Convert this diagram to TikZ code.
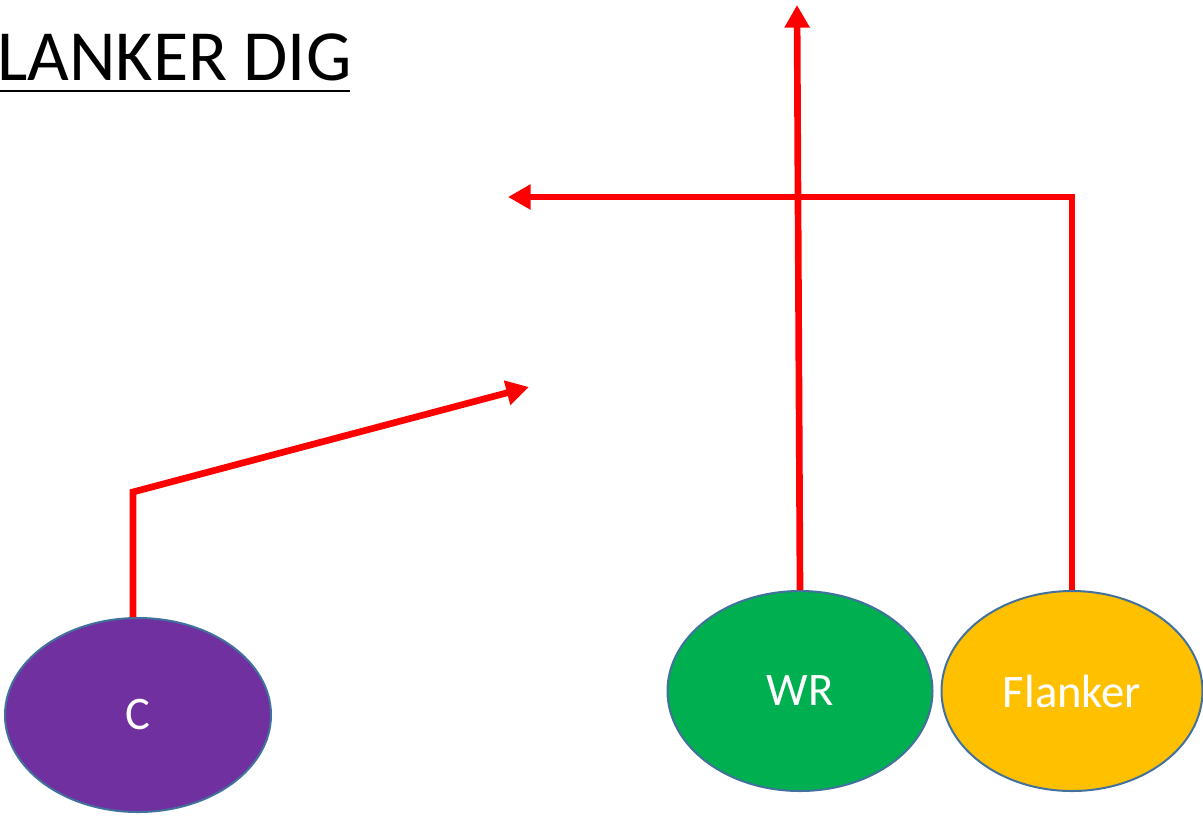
\documentclass[tikz,border=0pt]{standalone}
\usepackage{fontspec}
\setmainfont{Carlito}
\usetikzlibrary{arrows.meta,shapes.geometric}
\definecolor{cpurple}{HTML}{7030A0}
\definecolor{cgreen}{HTML}{00B050}
\definecolor{cgold}{HTML}{FFC000}
\definecolor{cedge}{HTML}{41719C}
\tikzset{
  player/.style={ellipse, draw=cedge, line width=1.5pt, inner sep=0pt,
    text=white, font=\fontsize{35}{40}\selectfont},
  route/.style={draw=red, line width=5pt, line join=miter,
    -{Triangle[length=17pt,width=18pt]}},
}
\begin{document}
\begin{tikzpicture}[x=0.75pt,y=-0.75pt]
\useasboundingbox (0,0) rectangle (1203,815);
% title
\node[anchor=base west, inner sep=0pt, font=\fontsize{54}{60}\selectfont] (title) at (-3,80) {LANKER DIG};
\draw[line width=2.2pt] (0,91) coordinate (ul1) -- (350,91) coordinate (ul2);
% players
\node[player, fill=cpurple, minimum width=266*0.75pt, minimum height=194*0.75pt] (c) at (138,715) {C};
\node[player, fill=cgreen, minimum width=265*0.75pt, minimum height=200*0.75pt] (wr) at (800,691) {WR};
\node[player, fill=cgold, minimum width=261*0.75pt, minimum height=200*0.75pt] (fl) at (1072,691) {Flanker};
% free ends
\coordinate (wrend) at (797,5);
\coordinate (flcorner) at (1072,197);
\coordinate (flend) at (508,197);
\coordinate (ccorner) at (133,492);
\coordinate (cend) at (529,387);
% routes
\draw[route] (wr.north) -- (wrend);
\draw[route] (fl.north) -- (flcorner) -- (flend);
\draw[route] ([xshift=-3.75pt]c.north) -- (ccorner) -- (cend);
\end{tikzpicture}
\end{document}
